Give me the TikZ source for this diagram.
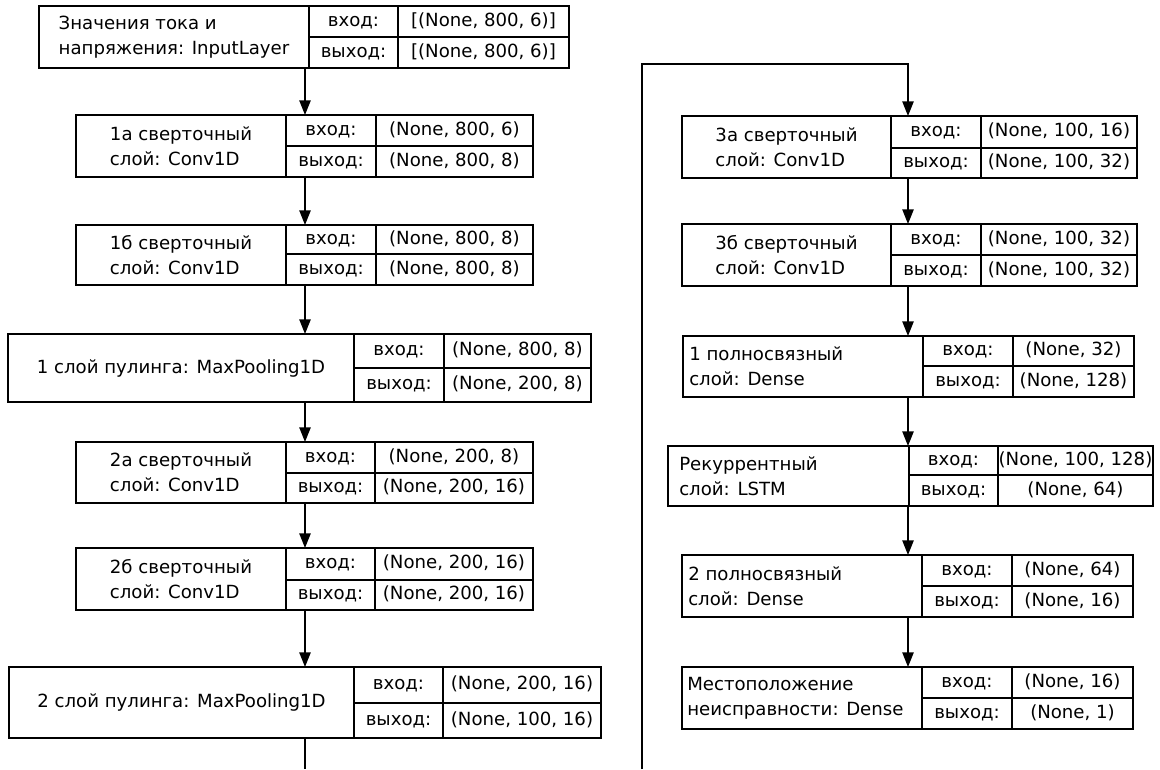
\documentclass[tikz,border=0pt]{standalone}
\usepackage{fontspec}
\setmainfont{DejaVu Sans}
\usetikzlibrary{arrows.meta}
\newcommand{\lyr}[8]{%
  \node[box, minimum width={(#5-#2)*0.75pt}, minimum height={(#8-#6)*0.75pt}] (#1) at ({(#2+#5)/2},{(#6+#8)/2}) {};
  \draw[cell] (#3,#6) -- (#3,#8) (#4,#6) -- (#4,#8) (#3,#7) -- (#5,#7);
  \coordinate (#1-nm) at ({(#2+#3)/2},{(#6+#8)/2});
  \coordinate (#1-ki) at ({(#3+#4)/2},{(#6+#7)/2});
  \coordinate (#1-ko) at ({(#3+#4)/2},{(#7+#8)/2});
  \coordinate (#1-vi) at ({(#4+#5)/2},{(#6+#7)/2});
  \coordinate (#1-vo) at ({(#4+#5)/2},{(#7+#8)/2});
  \coordinate (#1-x0) at (#2,{(#6+#8)/2});
}
\newcommand{\lyrio}[3]{%
  \node[txt] (#1-in) at (#1-ki) {вход:};
  \node[txt] (#1-out) at (#1-ko) {выход:};
  \node[txt] (#1-inv) at (#1-vi) {#2};
  \node[txt] (#1-outv) at (#1-vo) {#3};
}
\newcommand{\lyrtxt}[4]{%
  \node[nametxt] (#1-name) at (#1-nm) {#2};
  \lyrio{#1}{#3}{#4}
}
\newcommand{\lyrtxtL}[5]{%
  \node[nametxt, anchor=west] (#1-name) at ([xshift=#2*0.75pt]#1-x0) {#3};
  \lyrio{#1}{#4}{#5}
}
\begin{document}
\begin{tikzpicture}[x=0.75pt,y=-0.75pt,
  box/.style={draw, line width=1.1pt, inner sep=0pt, outer sep=0pt},
  cell/.style={line width=1.1pt},
  txt/.style={font=\fontsize{13.6pt}{18.5pt}\selectfont, inner sep=0pt, text height=10pt, text depth=3pt},
  nametxt/.style={font=\fontsize{13.6pt}{18.5pt}\selectfont, inner sep=0pt, align=left},
  arr/.style={line width=1.1pt, -{Triangle[length=11pt,width=8.5pt]}},
  wire/.style={line width=1.1pt}]
\useasboundingbox (0,0) rectangle (1160,769);
\fill[white] (0,0) rectangle (1160,769);

% left column
\lyr{in0}{39}{309}{398}{569}{6}{37}{68}
\lyrtxt{in0}{Значения тока и\\напряжения: InputLayer}{[(None, 800, 6)]}{[(None, 800, 6)]}
\lyr{c1a}{76}{286}{376}{533}{115}{146}{177}
\lyrtxt{c1a}{1а сверточный\\слой: Conv1D}{(None, 800, 6)}{(None, 800, 8)}
\lyr{c1b}{76}{286}{376}{533}{225}{254}{285}
\lyrtxt{c1b}{1б сверточный\\слой: Conv1D}{(None, 800, 8)}{(None, 800, 8)}
\lyr{p1}{8}{354}{444}{591}{334}{368}{402}
\lyrtxt{p1}{1 слой пулинга: MaxPooling1D}{(None, 800, 8)}{(None, 200, 8)}
\lyr{c2a}{76}{286}{375}{533}{442}{473}{503}
\lyrtxt{c2a}{2а сверточный\\слой: Conv1D}{(None, 200, 8)}{(None, 200, 16)}
\lyr{c2b}{76}{286}{375}{533}{548}{580}{610}
\lyrtxt{c2b}{2б сверточный\\слой: Conv1D}{(None, 200, 16)}{(None, 200, 16)}
\lyr{p2}{9}{354}{443}{601}{667}{703}{738}
\lyrtxt{p2}{2 слой пулинга: MaxPooling1D}{(None, 200, 16)}{(None, 100, 16)}

% right column
\lyr{c3a}{682}{891}{981}{1137}{116}{148}{178}
\lyrtxt{c3a}{3а сверточный\\слой: Conv1D}{(None, 100, 16)}{(None, 100, 32)}
\lyr{c3b}{682}{891}{981}{1137}{224}{255}{286}
\lyrtxt{c3b}{3б сверточный\\слой: Conv1D}{(None, 100, 32)}{(None, 100, 32)}
\lyr{d1}{683}{923}{1013}{1134}{336}{366}{397}
\lyrtxtL{d1}{6}{1 полносвязный\\слой: Dense}{(None, 32)}{(None, 128)}
\lyr{lstm}{668}{909}{998}{1153}{446}{475}{506}
\lyrtxtL{lstm}{11}{Рекуррентный\\слой: LSTM}{(None, 100, 128)}{(None, 64)}
\lyr{d2}{682}{922}{1012}{1133}{555}{586}{617}
\lyrtxtL{d2}{6}{2 полносвязный\\слой: Dense}{(None, 64)}{(None, 16)}
\lyr{fin}{682}{922}{1012}{1133}{667}{698}{729}
\lyrtxtL{fin}{5}{Местоположение\\неисправности: Dense}{(None, 16)}{(None, 1)}

% connectors left
\coordinate (colL) at (305,0);
\draw[arr] (colL |- in0.south) -- (colL |- c1a.north);
\draw[arr] (colL |- c1a.south) -- (colL |- c1b.north);
\draw[arr] (colL |- c1b.south) -- (colL |- p1.north);
\draw[arr] (colL |- p1.south) -- (colL |- c2a.north);
\draw[arr] (colL |- c2a.south) -- (colL |- c2b.north);
\draw[arr] (colL |- c2b.south) -- (colL |- p2.north);
\coordinate (endL) at (305,769);
\draw[wire] (colL |- p2.south) -- (endL);

% connectors right
\coordinate (colR) at (908,0);
\coordinate (startR) at (642,769);
\coordinate (turnR) at (642,64);
\draw[arr] (startR) -- (turnR) -| (colR |- c3a.north);
\draw[arr] (colR |- c3a.south) -- (colR |- c3b.north);
\draw[arr] (colR |- c3b.south) -- (colR |- d1.north);
\draw[arr] (colR |- d1.south) -- (colR |- lstm.north);
\draw[arr] (colR |- lstm.south) -- (colR |- d2.north);
\draw[arr] (colR |- d2.south) -- (colR |- fin.north);
\end{tikzpicture}
\end{document}
